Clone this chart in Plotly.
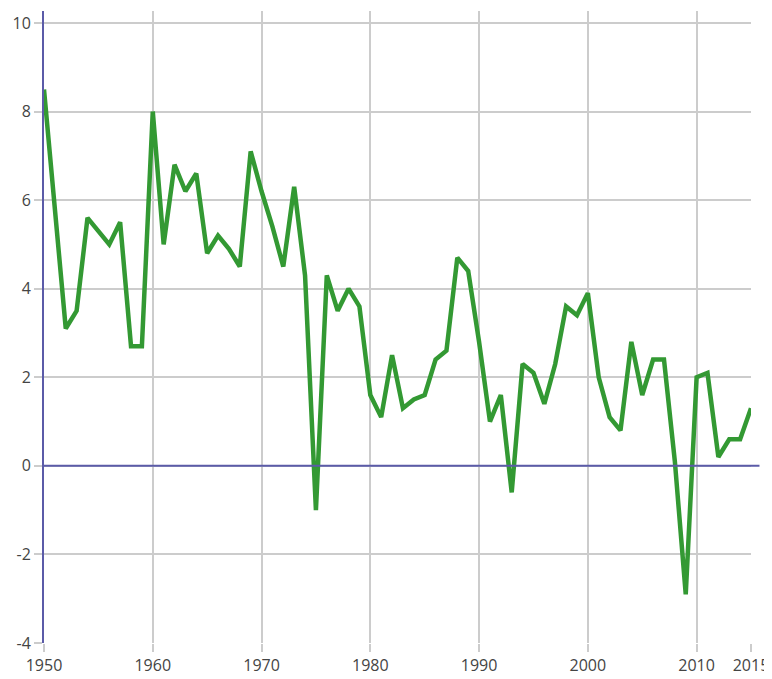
import plotly.graph_objects as go

years = list(range(1950, 2016))
growth = [
    8.5, 5.9, 3.1, 3.5, 5.6, 5.3, 5.0, 5.5, 2.7, 2.7,
    8.0, 5.0, 6.8, 6.2, 6.6, 4.8, 5.2, 4.9, 4.5, 7.1,
    6.2, 5.4, 4.5, 6.3, 4.3, -1.0, 4.3, 3.5, 4.0, 3.6,
    1.6, 1.1, 2.5, 1.3, 1.5, 1.6, 2.4, 2.6, 4.7, 4.4,
    2.8, 1.0, 1.6, -0.6, 2.3, 2.1, 1.4, 2.3, 3.6, 3.4,
    3.9, 2.0, 1.1, 0.8, 2.8, 1.6, 2.4, 2.4, 0.1, -2.9,
    2.0, 2.1, 0.2, 0.6, 0.6, 1.3,
]
x_ticks = [1950, 1960, 1970, 1980, 1990, 2000, 2010, 2015]
y_ticks = [-4, -2, 0, 2, 4, 6, 8, 10]

axis_color = "#5b5ba8"
grid_color = "#cccccc"

fig = go.Figure()
fig.add_trace(go.Scatter(
    x=years, y=growth, mode="lines",
    line=dict(color="#339933", width=4.5),
    hoverinfo="x+y", showlegend=False,
))

fig.add_shape(
    type="line", xref="paper", yref="y", x0=0, x1=1.012, y0=0, y1=0,
    line=dict(color=axis_color, width=2), layer="above",
)

fig.update_layout(
    width=764, height=671,
    margin=dict(l=36, r=21, t=3, b=36),
    paper_bgcolor="white", plot_bgcolor="white",
    font=dict(family="Open Sans, sans-serif", size=16, color="#444444"),
    xaxis=dict(
        range=[1950, 2015], tickvals=x_ticks, ticktext=[str(v) for v in x_ticks],
        showgrid=True, gridcolor=grid_color, gridwidth=1.5,
        ticks="outside", ticklen=8, tickcolor=grid_color, tickwidth=1.5,
        zeroline=False, showline=False, automargin=False,
        ticklabeloverflow="allow",
    ),
    yaxis=dict(
        range=[-4, 10.27], tickvals=y_ticks, ticktext=[str(v) for v in y_ticks],
        showgrid=True, gridcolor=grid_color, gridwidth=1.5,
        ticks="outside", ticklen=8, tickcolor=grid_color, tickwidth=1.5,
        zeroline=False,
        showline=True, linecolor=axis_color, linewidth=2, automargin=False,
        ticklabeloverflow="allow",
    ),
)

fig.write_html("out.html")
